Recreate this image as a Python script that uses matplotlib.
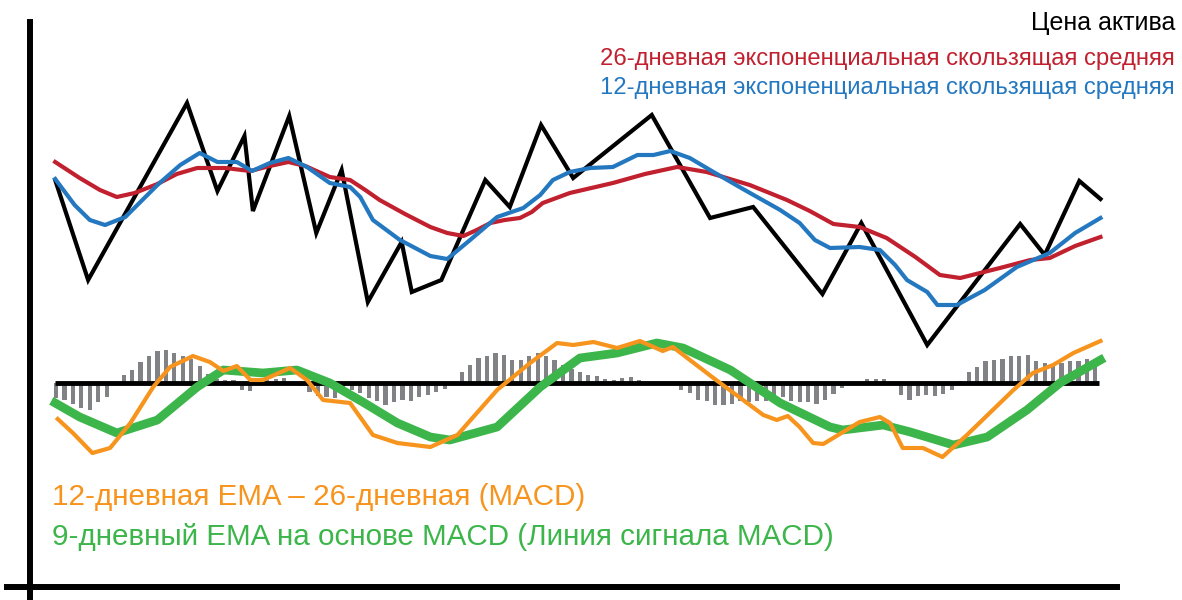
import numpy as np
import matplotlib.pyplot as plt
from matplotlib.lines import Line2D

plt.rcParams['font.family'] = ['Liberation Sans', 'DejaVu Sans']

# Price (zig-zag), x in trading days, y in price units
price_x = [-0.1, 3.8, 15.5, 19.1, 22.3, 23.3, 27.6, 30.8, 33.8, 36.9, 40.9, 42.1, 45.6,
           50.8, 53.7, 57.4, 61.2, 70.5, 77.4, 82.5, 90.7, 95.3, 103.1, 114.1, 117.0,
           121.1, 123.6]
price_y = [20.3, 10.3, 28.0, 19.2, 24.7, 17.2, 26.7, 15.0, 21.3, 8.1, 14.1, 9.1, 10.3,
           20.3, 17.6, 25.8, 20.5, 26.8, 16.5, 17.6, 8.9, 16.0, 3.8, 15.9, 12.8,
           20.2, 18.4]

# 26-day EMA
ema26_x = [-0.1, 2.8, 5.2, 7.2, 9.3, 12.0, 14.3, 16.7, 20.0, 23.0, 25.3, 27.5, 29.5,
           32.4, 34.8, 36.6, 38.3, 41.3, 44.3, 46.3, 48.2, 49.8, 51.4, 53.1, 54.9,
           56.3, 57.6, 60.8, 65.9, 69.7, 73.5, 77.0, 82.1, 86.5, 89.2, 92.0, 95.1,
           98.3, 101.7, 104.6, 107.0, 111.7, 115.3, 117.6, 120.6, 123.6]
ema26_y = [22.1, 20.5, 19.3, 18.6, 19.0, 19.9, 20.9, 21.5, 21.5, 21.2, 21.7, 22.1, 21.7,
           20.6, 20.3, 19.3, 18.3, 16.9, 15.6, 15.0, 14.7, 15.3, 16.0, 16.3, 16.5,
           17.1, 18.0, 19.0, 20.0, 20.9, 21.6, 21.1, 19.8, 18.3, 17.2, 15.9, 15.6,
           14.5, 12.6, 10.8, 10.5, 11.5, 12.3, 12.5, 13.7, 14.6]

# 12-day EMA
ema12_x = [-0.1, 2.2, 4.0, 5.8, 8.2, 12.0, 14.7, 17.0, 19.1, 21.4, 23.2, 25.3, 27.5,
           29.7, 32.4, 34.8, 36.0, 37.5, 40.7, 44.3, 46.3, 49.0, 52.2, 55.3, 57.3,
           58.8, 60.8, 63.2, 65.9, 68.8, 70.7, 72.7, 75.0, 77.8, 81.5, 85.7, 88.0,
           89.8, 91.6, 95.1, 97.5, 99.3, 100.7, 103.1, 104.3, 106.6, 109.9, 113.7,
           117.6, 120.6, 123.6]
ema12_y = [20.4, 17.8, 16.3, 15.8, 16.6, 19.8, 21.8, 23.0, 22.1, 22.1, 21.2, 22.0, 22.5,
           21.6, 20.0, 19.6, 18.6, 16.3, 14.3, 12.7, 12.4, 14.3, 16.6, 17.5, 18.8,
           20.3, 21.1, 21.5, 21.6, 22.8, 22.8, 23.2, 22.5, 21.1, 19.3, 17.3, 16.0,
           14.3, 13.5, 13.6, 13.3, 11.8, 10.3, 9.1, 7.8, 7.8, 9.3, 11.6,
           13.0, 15.0, 16.5]

# MACD line (12 EMA - 26 EMA)
macd_x = [0.2, 2.0, 4.3, 6.4, 8.8, 11.5, 13.5, 16.2, 18.2, 19.8, 21.4, 23.0, 24.5,
          27.7, 29.7, 31.6, 34.8, 37.5, 40.4, 44.3, 47.5, 52.2, 56.1, 59.3, 61.2,
          63.6, 66.4, 69.1, 71.8, 73.0, 77.8, 83.7, 85.3, 86.6, 88.0, 89.6, 90.8,
          95.1, 97.5, 98.7, 100.2, 102.6, 104.9, 107.8, 113.3, 115.6, 118.0, 120.4,
          123.6]
macd_y = [-3.6, -5.0, -7.0, -6.5, -4.0, -0.4, 1.6, 2.7, 2.1, 1.2, 1.7, 0.3, 0.3,
          1.5, 0.3, -1.7, -2.0, -5.2, -6.0, -6.4, -5.2, -0.7, 2.0, 4.0, 3.8,
          4.1, 3.5, 4.2, 3.2, 3.6, 0.5, -3.2, -3.7, -3.3, -4.4, -6.0, -6.1,
          -3.9, -3.4, -4.0, -6.5, -6.5, -7.4, -5.2, -0.7, 1.0, 1.8, 3.0,
          4.2]

# Signal line (9-day EMA of MACD)
signal_x = [-0.1, 2.8, 7.2, 12.0, 16.7, 19.8, 24.5, 28.5, 32.4, 36.3, 40.4, 44.3, 46.6,
            52.2, 57.3, 62.0, 66.4, 71.1, 74.2, 79.8, 85.7, 91.6, 93.1, 97.9, 101.1,
            106.2, 110.2, 114.9, 118.8, 123.6]
signal_y = [-2.0, -3.4, -5.0, -3.7, -0.4, 1.3, 1.0, 1.3, 0.0, -1.9, -4.0, -5.4, -5.7,
            -4.4, -0.4, 2.5, 3.0, 4.0, 3.5, 1.3, -2.0, -4.4, -4.7, -4.2, -4.9,
            -6.2, -5.4, -2.7, 0.0, 2.3]

# Histogram (MACD - signal), one bar per day
hist = [-1.5, -1.7, -2.1, -2.5, -2.7, -1.9, -1.4, 0.0, 0.8, 1.3, 2.1, 2.7, 3.2, 3.3,
        3.0, 2.7, 2.4, 1.7, 0.9, 0.4, 0.3, 0.3, -0.7, -0.8, -0.2, 0.3, 0.4, 0.5,
        0.0, -0.3,
        -0.9, -1.3, -1.4, -1.5, -1.0, -0.7, -1.0, -1.5, -1.8, -2.2, -1.9, -1.7, -1.8,
        -1.4, -1.2, -0.9, -0.6,
        0.0,
        1.1, 1.8, 2.5, 2.7, 3.0, 2.8, 2.3, 2.3, 2.7, 3.0, 2.7, 2.3, 1.8, 1.4, 1.1,
        0.8, 0.7, 0.4, 0.3, 0.5, 0.6, 0.3,
        0.0, 0.0, 0.0, 0.0,
        -0.7, -1.0, -1.7, -1.8, -2.2, -2.2, -2.1, -1.8, -1.9, -1.8, -1.8, -1.7, -1.4,
        -1.8, -1.9, -1.9, -2.1, -1.7, -1.1, -0.5,
        0.0, 0.0,
        0.4, 0.4, 0.4,
        0.0,
        -1.2, -1.7, -1.3, -1.2, -1.3, -1.1, -0.7,
        0.2, 1.1, 1.6, 2.2, 2.3, 2.4, 2.7, 2.7, 2.8, 2.2, 2.0, 1.8, 2.0, 2.2, 2.2,
        2.4, 1.8]
days = np.arange(len(hist))

title_price = 'Цена актива'
label_26 = '26-дневная экспоненциальная скользящая средняя'
label_12 = '12-дневная экспоненциальная скользящая средняя'
label_macd = '12-дневная EMA – 26-дневная (MACD)'
label_signal = '9-дневный EMA на основе MACD (Линия сигнала MACD)'

c_red = '#C1202F'
c_blue = '#2478C0'
c_orange = '#F7941D'
c_green = '#3CB64A'
c_gray = '#808285'

fig = plt.figure(figsize=(11.82, 6.0), dpi=100)
ax = fig.add_axes([0, 0, 1, 1])
ax.set_xlim(-6.63, 133.25)
ax.set_ylim(-21.7, 38.3)
ax.axis('off')

# histogram bars and zero line
ax.bar(days, hist, width=0.5, color=c_gray, zorder=1)
ax.plot([days[0] - 0.1, days[-1] + 0.4], [0, 0], color='black', lw=3.5, zorder=2,
        solid_capstyle='butt')

# price panel
ax.plot(price_x, price_y, color='black', lw=3, solid_joinstyle='miter', zorder=3)
ax.plot(ema26_x, ema26_y, color=c_red, lw=3, solid_joinstyle='round', zorder=4)
ax.plot(ema12_x, ema12_y, color=c_blue, lw=3, solid_joinstyle='round', zorder=5)

# MACD panel
ax.plot(signal_x, signal_y, color=c_green, lw=6.3, solid_joinstyle='round', zorder=3)
ax.plot(macd_x, macd_y, color=c_orange, lw=3, solid_joinstyle='round', zorder=4)

# axis frame lines (crossing at bottom-left)
fig.add_artist(Line2D([30 / 1182, 30 / 1182], [0, 1 - 22 / 600], color='black', lw=4.3,
                      transform=fig.transFigure))
fig.add_artist(Line2D([7 / 1182, 1117 / 1182], [1 - 587 / 600, 1 - 587 / 600],
                      color='black', lw=4.3, transform=fig.transFigure))

# labels
fig.text(1175 / 1182, 1 - 23 / 600, title_price, ha='right', va='center',
         fontsize=18, color='black')
fig.text(1175 / 1182, 1 - 59 / 600, label_26, ha='right', va='center',
         fontsize=17.2, color=c_red)
fig.text(1175 / 1182, 1 - 88 / 600, label_12, ha='right', va='center',
         fontsize=17.2, color=c_blue)
fig.text(52 / 1182, 1 - 497 / 600, label_macd, ha='left', va='center',
         fontsize=21.3, color=c_orange)
fig.text(52 / 1182, 1 - 537 / 600, label_signal, ha='left', va='center',
         fontsize=21.3, color=c_green)

fig.savefig('out.png', dpi=100)
